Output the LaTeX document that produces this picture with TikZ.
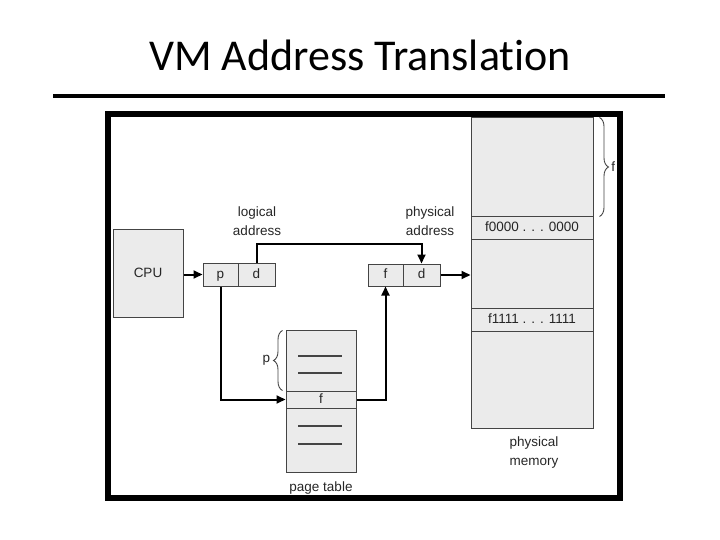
\documentclass[tikz,border=0pt]{standalone}
\usepackage{fontspec}
\setmainfont{Liberation Sans}
\newfontfamily\titlefont[Ligatures={NoCommon}]{Carlito}
\usetikzlibrary{arrows.meta,calc,decorations.pathreplacing}
\definecolor{boxfill}{HTML}{EBEBEB}
\definecolor{boxline}{HTML}{444444}
\definecolor{txt}{HTML}{262626}
\tikzset{
  cell/.style={draw=boxline, fill=boxfill, line width=1pt, inner sep=0pt, text=txt,
    font=\fontsize{13.5}{15}\selectfont, text height=9.5pt, text depth=2.5pt},
  lbl/.style={text=txt, font=\fontsize{13.5}{19}\selectfont, align=center, inner sep=0pt},
  conn/.style={line width=2pt, black},
  arr/.style={conn, -{Triangle[length=9pt,width=8pt]}},
  rowline/.style={line width=1.1pt, boxline},
  brc/.style={decorate, decoration={brace, amplitude=9pt}, line width=0.9pt, boxline}
}
\begin{document}
\begin{tikzpicture}[x=1pt,y=-1pt]
\useasboundingbox (0,0) rectangle (720,540);
% title
\node[anchor=base, font=\titlefont\fontsize{44}{48}\selectfont] (title) at (360,71) {VM Address Translation};
\draw[line width=4pt] (53,96) -- (665,96);

% CPU
\node[cell, minimum width=70pt, minimum height=87pt] (cpu) at (148,273.5) {CPU};
% logical address
\node[cell, minimum width=35pt, minimum height=23pt] (lp) at (220.5,274.5) {p};
\node[cell, minimum width=37pt, minimum height=23pt] (ld) at (256.5,274.5) {d};
\node[lbl] (llab) at (257,221) {logical\\address};
% physical address
\node[cell, minimum width=35pt, minimum height=22pt] (pf) at (385.5,275) {f};
\node[cell, minimum width=37pt, minimum height=22pt] (pd) at (421.5,275) {d};
\node[lbl] (plab) at (430,221) {physical\\address};

% page table
\node[cell, minimum width=70pt, minimum height=61pt] (pt1) at (321,360.5) {};
\node[cell, minimum width=70pt, minimum height=17pt, text height=8pt, text depth=1pt] (ptf) at (321,399.5) {f};
\node[cell, minimum width=70pt, minimum height=64pt] (pt3) at (321,440) {};
\draw[rowline] (298,356) -- (342,356);
\draw[rowline] (298,373) -- (342,373);
\draw[rowline] (298,426) -- (342,426);
\draw[rowline] (298,444) -- (342,444);
\node[lbl] (ptlab) at (321,488) {page table};
\draw[brc] ($(pt1.south west)+(-3,-1)$) -- ($(pt1.north west)+(-3,1)$)
  node[midway, left=12pt, lbl] (plabel) {p};

% physical memory
\node[cell, minimum width=122pt, minimum height=99pt] (m1) at (532,167.5) {};
\node[cell, minimum width=122pt, minimum height=22pt] (m2) at (532,228) {f0000 . . . 0000};
\node[cell, minimum width=122pt, minimum height=69pt] (m3) at (532,273.5) {};
\node[cell, minimum width=122pt, minimum height=23pt] (m4) at (532,319.5) {f1111 . . . 1111};
\node[cell, minimum width=122pt, minimum height=97pt] (m5) at (532,379.5) {};
\node[lbl] (mlab) at (534,453) {physical\\memory};
\draw[brc] ($(m1.north east)+(6,0)$) -- ($(m1.south east)+(6,-1)$)
  node[midway, right=11.5pt, lbl] (flabel) {f};

% connectors
\coordinate (lvl) at (0,244);
\coordinate (bend1) at (pd.north |- lvl);
\draw[arr] (lp.west -| cpu.east) -- (lp.west);
\draw[arr] (ld.north) |- (bend1) -- (pd.north);
\draw[arr] (pd.east) -- (pd.east -| m3.west);
\draw[arr] (lp.south) |- (ptf.west);
\draw[arr] (ptf.east) -| (pf.south);

% frame
\draw[line width=6pt] (108,114) rectangle (620,498);
\end{tikzpicture}
\end{document}
